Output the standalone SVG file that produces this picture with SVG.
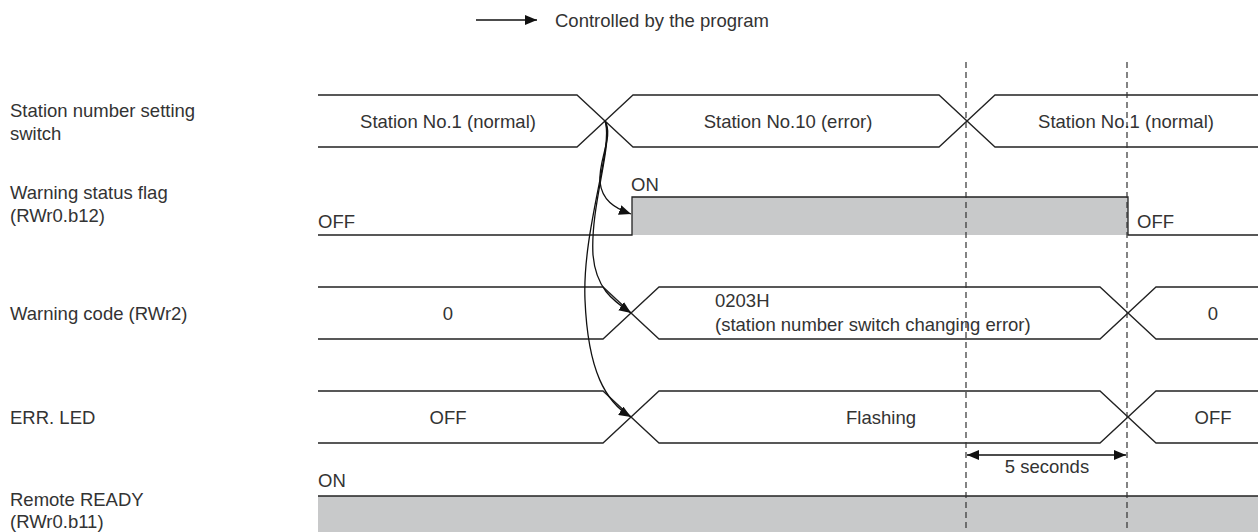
<svg xmlns="http://www.w3.org/2000/svg" width="1258" height="532" viewBox="0 0 1258 532">
<style>
text{font-family:"Liberation Sans",Arial,sans-serif;font-size:18.5px;fill:#333}
.m{text-anchor:middle}
.ln{fill:none;stroke:#222;stroke-width:1.3}
.fill{fill:#c8c9ca;stroke:none}
.dash{stroke:#333;stroke-width:1.2;stroke-dasharray:6 4;fill:none}
.cv{fill:none;stroke:#111;stroke-width:1.3}
</style>
<defs>
<marker id="ah" viewBox="0 0 12 10" refX="12" refY="5" markerWidth="12" markerHeight="10" markerUnits="userSpaceOnUse" orient="auto">
<path d="M0,0 L12,5 L0,10 Z" fill="#111"/>
</marker>
<marker id="ahs" viewBox="0 0 12 10" refX="0" refY="5" markerWidth="12" markerHeight="10" markerUnits="userSpaceOnUse" orient="auto">
<path d="M12,0 L0,5 L12,10 Z" fill="#111"/>
</marker>
</defs>

<g id="legend">
<line class="cv" x1="476" y1="20" x2="537" y2="20" marker-end="url(#ah)"/>
<text x="555" y="27">Controlled by the program</text>
</g>

<g id="labels">
<text x="10" y="117">Station number setting</text>
<text x="10" y="140">switch</text>
<text x="10" y="199">Warning status flag</text>
<text x="10" y="222">(RWr0.b12)</text>
<text x="10" y="320">Warning code (RWr2)</text>
<text x="10" y="424">ERR. LED</text>
<text x="10" y="506">Remote READY</text>
<text x="10" y="528">(RWr0.b11)</text>
</g>

<g id="row-switch">
<path class="ln" d="M318,95 H577 L633,147 H939 L995,95 H1258"/>
<path class="ln" d="M318,147 H577 L633,95 H939 L995,147 H1258"/>
<text class="m" x="448" y="127.5">Station No.1 (normal)</text>
<text class="m" x="788" y="127.5">Station No.10 (error)</text>
<text class="m" x="1126" y="127.5">Station No.1 (normal)</text>
</g>

<g id="row-flag">
<rect class="fill" x="632" y="197" width="496" height="38"/>
<path class="ln" d="M318,235 H632 V197 H1128 V235 H1258"/>
<text x="631" y="191">ON</text>
<text x="318" y="228">OFF</text>
<text x="1137" y="228">OFF</text>
</g>

<g id="row-code">
<path class="ln" d="M318,287 H603 L659,339 H1100 L1156,287 H1258"/>
<path class="ln" d="M318,339 H603 L659,287 H1100 L1156,339 H1258"/>
<text class="m" x="448" y="319.5">0</text>
<text x="715" y="307">0203H</text>
<text x="715" y="331">(station number switch changing error)</text>
<text class="m" x="1213" y="319.5">0</text>
</g>

<g id="row-err">
<path class="ln" d="M318,391 H603 L659,443 H1100 L1156,391 H1258"/>
<path class="ln" d="M318,443 H603 L659,391 H1100 L1156,443 H1258"/>
<text class="m" x="448" y="423.5">OFF</text>
<text class="m" x="881" y="423.5">Flashing</text>
<text class="m" x="1213" y="423.5">OFF</text>
</g>

<g id="row-ready">
<rect class="fill" x="318" y="496" width="940" height="36"/>
<line class="ln" x1="318" y1="496" x2="1258" y2="496"/>
<text x="318" y="487">ON</text>
</g>

<g id="timing">
<line class="dash" x1="966" y1="62" x2="966" y2="532"/>
<line class="dash" x1="1127" y1="62" x2="1127" y2="532"/>
<line class="cv" x1="967" y1="455" x2="1126" y2="455" marker-start="url(#ahs)" marker-end="url(#ah)"/>
<text class="m" x="1047" y="473">5 seconds</text>
</g>

<g id="connectors">
<path class="cv" d="M605,121 C614,136 598,160 600,182 C602,200 614,208 631,214" marker-end="url(#ah)"/>
<path class="cv" d="M605,121 C614,142 590,205 593,255 C596,288 612,300 631,313" marker-end="url(#ah)"/>
<path class="cv" d="M605,121 C614,146 582,230 585,300 C588,372 606,402 631,417" marker-end="url(#ah)"/>
</g>
</svg>
